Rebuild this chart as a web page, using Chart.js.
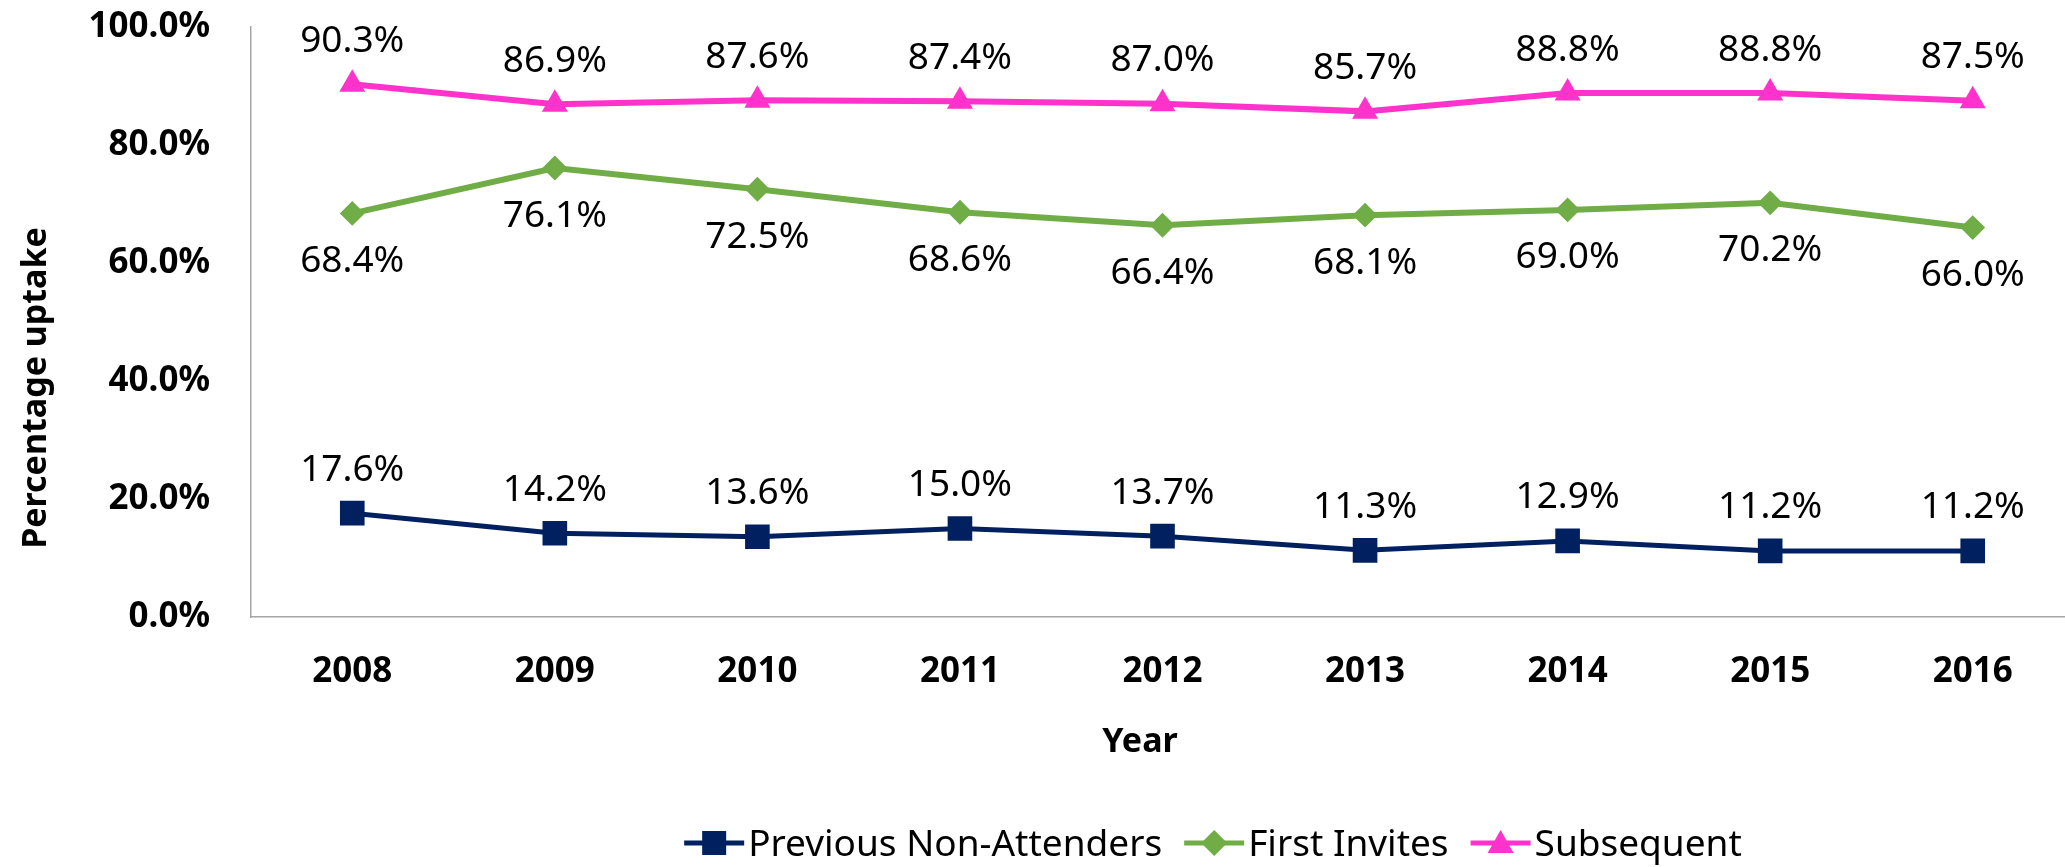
<!DOCTYPE html>
<html>
<head>
<meta charset="utf-8">
<title>Percentage uptake by year</title>
<script src="https://cdn.jsdelivr.net/npm/chart.js@4.4.0/dist/chart.umd.min.js"></script>
<style>
  html, body { margin: 0; padding: 0; background: #fff; overflow: hidden; }
  #wrap { width: 2074px; height: 867px; }
</style>
</head>
<body>
<div id="wrap"><canvas id="uptakeChart" width="2074" height="867" style="width:2074px;height:867px"></canvas></div>
<script>
// Chart data
const years = ['2008', '2009', '2010', '2011', '2012', '2013', '2014', '2015', '2016'];
const nonAttenders = [17.6, 14.2, 13.6, 15.0, 13.7, 11.3, 12.9, 11.2, 11.2];
const firstInvites = [68.4, 76.1, 72.5, 68.6, 66.4, 68.1, 69.0, 70.2, 66.0];
const subsequent = [90.3, 86.9, 87.6, 87.4, 87.0, 85.7, 88.8, 88.8, 87.5];
const yTicks = [0, 20, 40, 60, 80, 100];

const FONT = '"Noto Sans", "Open Sans", sans-serif';
Chart.defaults.font.family = FONT;
Chart.defaults.color = '#000';

// draw one marker shape (used by the legend)
function drawMarker(ctx, style, x, y, color) {
  ctx.fillStyle = color;
  ctx.beginPath();
  if (style === 'rect') {
    ctx.rect(x - 12, y - 12, 24, 24);
  } else if (style === 'rectRot') {
    ctx.moveTo(x, y - 13);
    ctx.lineTo(x + 13, y);
    ctx.lineTo(x, y + 13);
    ctx.lineTo(x - 13, y);
    ctx.closePath();
  } else {
    ctx.moveTo(x, y - 13);
    ctx.lineTo(x + 13, y + 10);
    ctx.lineTo(x - 13, y + 10);
    ctx.closePath();
  }
  ctx.fill();
}

// Value labels above / below each point
const valueLabels = {
  id: 'valueLabels',
  afterDatasetsDraw(chart) {
    const ctx = chart.ctx;
    ctx.save();
    ctx.font = '37px ' + FONT;
    ctx.fillStyle = '#000';
    ctx.textAlign = 'center';
    ctx.textBaseline = 'middle';
    chart.data.datasets.forEach((ds, i) => {
      const meta = chart.getDatasetMeta(i);
      meta.data.forEach((pt, j) => {
        const dy = ds.labelSide === 'below' ? 48 : -43;
        ctx.fillText(ds.data[j].toFixed(1) + '%', pt.x, pt.y + dy);
      });
    });
    ctx.restore();
  }
};

// Axis titles and the legend at the bottom
const extras = {
  id: 'extras',
  afterDraw(chart) {
    const ctx = chart.ctx;
    ctx.save();
    ctx.fillStyle = '#000';
    ctx.font = 'bold 34px ' + FONT;
    ctx.textAlign = 'center';
    ctx.textBaseline = 'middle';
    ctx.fillText('Year', 1140, 742);

    ctx.save();
    ctx.translate(36, 388);
    ctx.rotate(-Math.PI / 2);
    ctx.fillText('Percentage uptake', 0, 0);
    ctx.restore();

    // legend
    ctx.font = '37px ' + FONT;
    ctx.textAlign = 'left';
    const lineLen = 60, textGap = 4, itemGap = 22;
    const items = chart.data.datasets.map(ds => ({
      text: ds.label, color: ds.borderColor, style: ds.pointStyle,
      w: lineLen + textGap + ctx.measureText(ds.label).width
    }));
    const total = items.reduce((s, it) => s + it.w, 0) + itemGap * (items.length - 1);
    let x = 1213 - total / 2;
    const y = 843;
    items.forEach(it => {
      ctx.strokeStyle = it.color;
      ctx.lineWidth = 5;
      ctx.beginPath();
      ctx.moveTo(x, y);
      ctx.lineTo(x + lineLen, y);
      ctx.stroke();
      drawMarker(ctx, it.style, x + lineLen / 2, y, it.color);
      ctx.fillStyle = '#000';
      ctx.fillText(it.text, x + lineLen + textGap, y + 2);
      x += it.w + itemGap;
    });
    ctx.restore();
  }
};

const ctx = document.getElementById('uptakeChart').getContext('2d');
const uptakeChart = new Chart(ctx, {
  type: 'line',
  data: {
    labels: years,
    datasets: [{
      label: 'Previous Non-Attenders',
      data: nonAttenders,
      borderColor: '#002060',
      backgroundColor: '#002060',
      borderWidth: 5,
      pointStyle: 'rect',
      pointRadius: 16,
      pointBorderWidth: 2,
      labelSide: 'above'
    }, {
      label: 'First Invites',
      data: firstInvites,
      borderColor: '#70AD47',
      backgroundColor: '#70AD47',
      borderWidth: 6,
      pointStyle: 'rectRot',
      pointRadius: 11,
      pointBorderWidth: 2,
      labelSide: 'below'
    }, {
      label: 'Subsequent',
      data: subsequent,
      borderColor: '#FF33CC',
      backgroundColor: '#FF33CC',
      borderWidth: 6,
      pointStyle: 'triangle',
      pointRadius: 13,
      pointBorderWidth: 2,
      labelSide: 'above'
    }]
  },
  options: {
    responsive: false,
    animation: false,
    layout: { autoPadding: false, padding: { top: 27, left: 0, right: 0, bottom: 0 } },
    plugins: {
      legend: { display: false },
      tooltip: { enabled: false }
    },
    scales: {
      x: {
        offset: true,
        // invisible tick marks push the labels away from the axis
        grid: { display: true, drawOnChartArea: false, drawTicks: true, tickLength: 34, color: 'transparent', tickColor: 'transparent' },
        border: { display: true, color: '#A6A6A6', width: 1.5 },
        ticks: { padding: 0, font: { size: 35, weight: 'bold' }, color: '#000' },
        afterFit(scale) { scale.height = 250; }
      },
      y: {
        min: 0,
        max: 100,
        afterBuildTicks(scale) { scale.ticks = yTicks.map(v => ({ value: v })); },
        grid: { display: true, drawOnChartArea: false, drawTicks: true, tickLength: 41, color: 'transparent', tickColor: 'transparent' },
        border: { display: true, color: '#A6A6A6', width: 1.5 },
        ticks: {
          padding: 0,
          font: { size: 35, weight: 'bold' },
          color: '#000',
          callback: v => v.toFixed(1) + '%'
        },
        afterFit(scale) { scale.width = 251; }
      }
    }
  },
  plugins: [valueLabels, extras]
});
</script>
</body>
</html>
